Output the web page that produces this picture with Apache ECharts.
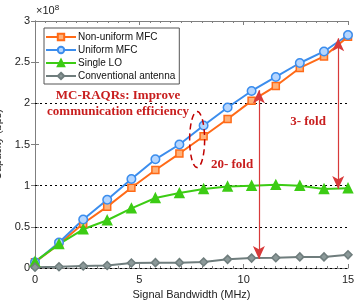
<!DOCTYPE html>
<html><head><meta charset="utf-8">
<script src="https://cdn.jsdelivr.net/npm/echarts@6/dist/echarts.min.js"></script>
<style>html,body{margin:0;padding:0;background:#fff}#c{width:357px;height:305px}</style>
</head><body><div id="c"></div>
<script>
const bandwidth = [0,1.15,2.31,3.46,4.62,5.77,6.92,8.08,9.23,10.38,11.54,12.69,13.85,15];
const nonUniformMFC = [0.07,0.29,0.54,0.745,0.975,1.19,1.39,1.60,1.81,2.03,2.21,2.43,2.57,2.81];
const uniformMFC = [0.07,0.31,0.59,0.83,1.08,1.32,1.50,1.73,1.95,2.15,2.32,2.49,2.63,2.83];
const singleLO = [0.077,0.29,0.47,0.58,0.725,0.85,0.91,0.96,0.99,1.0,1.01,1.0,0.96,0.97];
const conventional = [0.01,0.015,0.025,0.03,0.06,0.065,0.065,0.073,0.105,0.12,0.125,0.135,0.135,0.16];
const seriesNames = ['Non-uniform MFC','Uniform MFC','Single LO','Conventional antenna'];
const gridLevels = [0, 0.5, 1, 2];
const arrow20 = [[10.73,0.11],[10.73,2.16]];
const arrow3 = [[14.53,0.96],[14.53,2.79]];
const ellipseCenter = [7.77,1.56];

const pair = ys => bandwidth.map((x,i)=>[x,ys[i]]);
const chart = echarts.init(document.getElementById('c'));
const axisGray = '#7f7f7f';
const font = 'Liberation Sans, Arial, sans-serif';
const red = '#c00000';
function mk(name, data, color, fill, symbol, size){
  return {name, type:'line', data:pair(data), symbol, symbolSize:size,
    lineStyle:{color, width:2}, itemStyle:{color:fill, borderColor:color, borderWidth:1.5},
    emphasis:{disabled:true}, z:3};
}
const s = [
  mk(seriesNames[0], nonUniformMFC, '#ff6a17', '#ffb27a', 'rect', 7),
  mk(seriesNames[1], uniformMFC, '#3b8ded', '#b5d6ff', 'circle', 8.5),
  mk(seriesNames[2], singleLO, '#3ccc14', '#3ccc14', 'triangle', 9),
  mk(seriesNames[3], conventional, '#6f7d7d', '#8c9999', 'diamond', 8)
];
s[3].markLine = {silent:true, symbol:'none', label:{show:false},
  lineStyle:{color:'#000', type:[2,3], width:1}, z:1,
  data: gridLevels.map(v=>({yAxis:v}))};
s.push({type:'line', data:[], silent:true, markLine:{silent:true, symbol:['arrow','arrow'], symbolSize:[9,13],
  label:{show:false}, lineStyle:{color:'#d83a3a', type:'solid', width:1.2}, itemStyle:{color:red},
  data:[[{coord:arrow20[0]},{coord:arrow20[1]}],[{coord:arrow3[0]},{coord:arrow3[1]}]]}, z:5});

chart.setOption({
  animation:false,
  grid:{left:35, right:9, top:21, bottom:37, containLabel:false, outerBoundsMode:'none'},
  legend:{data:seriesNames, orient:'vertical', left:44, top:28, itemWidth:30, itemHeight:8, itemGap:3,
    backgroundColor:'#fff', borderColor:'#555', borderWidth:1, padding:[4,4,3,1],
    textStyle:{fontFamily:font, fontSize:10, color:'#111', padding:[0,0,0,-3]}},
  xAxis:[{type:'value', min:0, max:15, interval:5, name:'Signal Bandwidth (MHz)', nameLocation:'middle', nameGap:19,
    nameTextStyle:{fontFamily:font, fontSize:11, color:'#222'},
    axisLine:{lineStyle:{color:axisGray}}, axisTick:{inside:true, length:4, lineStyle:{color:axisGray}},
    minorTick:{show:true, splitNumber:10, length:2, lineStyle:{color:axisGray}},
    axisLabel:{fontFamily:font, fontSize:11, color:'#222', margin:6}, splitLine:{show:false}},
   {type:'value', position:'top', min:0, max:15, interval:5,
    axisLine:{show:true, onZero:false, lineStyle:{color:axisGray}}, axisTick:{inside:true, length:4, lineStyle:{color:axisGray}},
    minorTick:{show:true, splitNumber:10, length:2, lineStyle:{color:axisGray}},
    axisLabel:{show:false}, splitLine:{show:false}}],
  yAxis:[{type:'value', min:0, max:3, interval:0.5, name:'Capacity (bps)', nameLocation:'middle', nameGap:21,
    nameTextStyle:{fontFamily:font, fontSize:11, color:'#222'},
    axisLine:{show:true, lineStyle:{color:axisGray}}, axisTick:{show:true, inside:true, length:4, lineStyle:{color:axisGray}},
    axisLabel:{fontFamily:font, fontSize:11, color:'#222', margin:5}, splitLine:{show:false}},
   {type:'value', position:'right', min:0, max:3, interval:0.5,
    axisLine:{show:true, lineStyle:{color:axisGray}}, axisTick:{show:true, inside:true, length:4, lineStyle:{color:axisGray}},
    axisLabel:{show:false}, splitLine:{show:false}}],
  series:s
});
const c = chart.convertToPixel({xAxisIndex:0,yAxisIndex:0}, ellipseCenter);
const serif = 'bold 13px "Liberation Serif", "Times New Roman", serif';
chart.setOption({graphic:[
  {type:'text', x:36, y:4, style:{text:'×10{s|8}', rich:{s:{fontSize:8, verticalAlign:'top', fontFamily:font, fill:'#222', padding:[0,0,6,0]}}, font:'11px '+font, fill:'#222'}},
  {type:'ellipse', shape:{cx:c[0], cy:c[1], rx:7.5, ry:28}, style:{fill:'none', stroke:red, lineWidth:1.5, lineDash:[6,4]}, z:10},
  {type:'text', x:118, y:104, style:{text:'MC-RAQRs: Improve\ncommunication efficiency', font:serif, fill:'#c81e1e', align:'center', verticalAlign:'middle', lineHeight:16}, z:10},
  {type:'text', x:232, y:165, style:{text:'20- fold', font:serif, fill:'#c81e1e', align:'center', verticalAlign:'middle'}, z:10},
  {type:'text', x:308, y:122, style:{text:'3- fold', font:serif, fill:'#c81e1e', align:'center', verticalAlign:'middle'}, z:10}
]});
</script></body></html>
